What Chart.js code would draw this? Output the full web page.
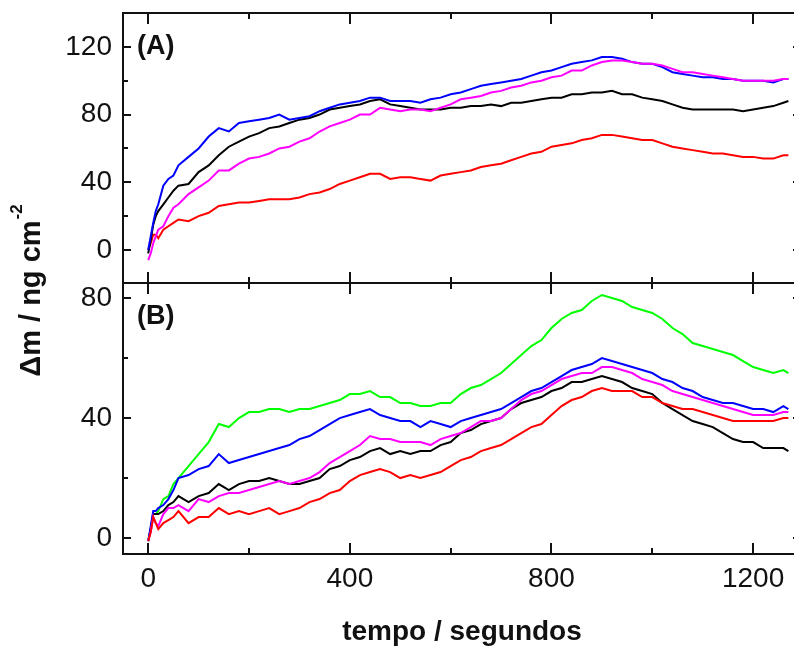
<!DOCTYPE html>
<html>
<head>
<meta charset="utf-8">
<script src="https://cdn.jsdelivr.net/npm/chart.js@4.4.1/dist/chart.umd.min.js"></script>
<style>
  html, body { margin: 0; padding: 0; background: #fff; overflow: hidden; }
  #quadro { position: relative; width: 794px; height: 651px; overflow: hidden; }
  #quadro canvas { position: absolute; left: 0; top: 0; }
</style>
</head>
<body>
<div id="quadro">
  <canvas id="painelA" width="805" height="290"></canvas>
  <canvas id="painelB" width="805" height="651"></canvas>
</div>
<script>
// Tempo (s)
const tempo = [0, 5, 10, 15, 20, 30, 40, 50, 60, 80, 100, 120, 140, 160, 180, 200, 220, 240, 260, 280,
  300, 320, 340, 360, 380, 400, 420, 440, 460, 480, 500, 520, 540, 560, 580, 600, 620, 640, 660, 680,
  700, 720, 740, 760, 780, 800, 820, 840, 860, 880, 900, 920, 940, 960, 980, 1000, 1020, 1040, 1060, 1080,
  1100, 1120, 1140, 1160, 1180, 1200, 1220, 1240, 1260, 1270];

// Painel (A) - Δm em ng cm-2
const azulA = [0, 8, 16, 23, 27, 38, 42, 44, 50, 55, 60, 67, 72, 70, 75, 76, 77, 78, 80, 77,
  78, 79, 82, 84, 86, 87, 88, 90, 90, 88, 88, 88, 87, 89, 90, 92, 93, 95, 97, 98,
  99, 100, 101, 103, 105, 106, 108, 110, 111, 112, 114, 114, 113, 111, 110, 110, 108, 105, 104, 103,
  102, 102, 101, 101, 100, 100, 100, 99, 101, 101];
const magentaA = [-6, -2, 4, 8, 12, 14, 20, 25, 27, 33, 37, 41, 47, 47, 51, 54, 55, 57, 60, 61,
  64, 66, 70, 73, 75, 77, 80, 80, 84, 83, 82, 83, 83, 82, 84, 86, 89, 90, 91, 93,
  94, 96, 97, 99, 100, 102, 103, 106, 106, 109, 111, 112, 112, 111, 110, 110, 109, 107, 105, 105,
  104, 103, 102, 101, 100, 100, 100, 100, 101, 101];
const pretoA = [-2, 6, 15, 20, 23, 27, 31, 35, 38, 39, 46, 50, 56, 61, 64, 67, 69, 72, 73, 75,
  77, 78, 80, 83, 84, 85, 86, 88, 89, 86, 85, 84, 83, 83, 83, 84, 84, 85, 85, 86,
  85, 87, 87, 88, 89, 90, 90, 92, 92, 93, 93, 94, 92, 92, 90, 89, 88, 86, 84, 83,
  83, 83, 83, 83, 82, 83, 84, 85, 87, 88];
const vermelhoA = [0, 4, 9, 9, 7, 12, 14, 16, 18, 17, 20, 22, 26, 27, 28, 28, 29, 30, 30, 30,
  31, 33, 34, 36, 39, 41, 43, 45, 45, 42, 43, 43, 42, 41, 44, 45, 46, 47, 49, 50,
  51, 53, 55, 57, 58, 61, 62, 63, 65, 66, 68, 68, 67, 66, 65, 65, 63, 61, 60, 59,
  58, 57, 57, 56, 55, 55, 54, 54, 56, 56];

// Painel (B)
const verdeB = [-1, 3, 8, 8, 9, 13, 14, 18, 20, 24, 28, 32, 38, 37, 40, 42, 42, 43, 43, 42,
  43, 43, 44, 45, 46, 48, 48, 49, 47, 47, 45, 45, 44, 44, 45, 45, 48, 50, 51, 53,
  55, 58, 61, 64, 66, 70, 73, 75, 76, 79, 81, 80, 79, 77, 76, 75, 73, 70, 68, 65,
  64, 63, 62, 61, 59, 57, 56, 55, 56, 55];
const azulB = [-1, 4, 9, 9, 10, 11, 13, 16, 20, 21, 23, 24, 28, 25, 26, 27, 28, 29, 30, 31,
  33, 34, 36, 38, 40, 41, 42, 43, 41, 40, 39, 39, 37, 39, 38, 37, 39, 40, 41, 42,
  43, 45, 47, 49, 50, 52, 54, 56, 57, 58, 60, 59, 58, 57, 56, 55, 53, 52, 50, 49,
  47, 46, 45, 45, 44, 43, 43, 42, 44, 43];
const magentaB = [-1, 2, 7, 5, 4, 8, 10, 10, 11, 9, 13, 12, 14, 15, 15, 16, 17, 18, 19, 18,
  19, 20, 22, 25, 27, 29, 31, 34, 33, 33, 32, 32, 32, 31, 33, 34, 35, 37, 39, 39,
  40, 43, 46, 48, 49, 51, 53, 54, 55, 55, 57, 57, 56, 55, 53, 52, 51, 49, 48, 47,
  46, 45, 44, 43, 42, 41, 41, 41, 42, 42];
const pretoB = [-1, 3, 8, 8, 8, 9, 11, 12, 14, 12, 14, 15, 18, 16, 18, 19, 19, 20, 19, 18,
  18, 19, 20, 23, 24, 26, 27, 29, 30, 28, 29, 28, 29, 29, 31, 32, 35, 36, 38, 39,
  40, 43, 45, 46, 47, 49, 50, 52, 52, 53, 54, 53, 52, 50, 49, 48, 45, 43, 41, 39,
  38, 37, 35, 33, 32, 32, 30, 30, 30, 29];
const vermelhoB = [-1, 2, 7, 5, 3, 5, 6, 7, 9, 5, 7, 7, 10, 8, 9, 8, 9, 10, 8, 9,
  10, 12, 13, 15, 16, 19, 21, 22, 23, 22, 20, 21, 20, 21, 22, 24, 26, 27, 29, 30,
  31, 33, 35, 37, 38, 41, 44, 46, 47, 49, 50, 49, 49, 49, 47, 47, 45, 44, 43, 43,
  42, 41, 40, 39, 39, 39, 39, 39, 40, 40];

// Marcas dos eixos
const marcasX = [0, 400, 800, 1200];
const marcasXMenores = [200, 600, 1000];
const marcasYA = [0, 40, 80, 120];
const marcasYAMenores = [20, 60, 100];
const marcasYB = [0, 40, 80];
const marcasYBMenores = [20, 60];

const fonte = "'Liberation Sans', Arial, sans-serif";
Chart.defaults.font.family = fonte;
Chart.defaults.color = '#111';

// Transforma uma série em pontos {x, y}
function pontos(serie) {
  return tempo.map((t, i) => ({ x: t, y: serie[i] }));
}

function linha(serie, cor) {
  return { data: pontos(serie), borderColor: cor, borderWidth: 2, pointRadius: 0, fill: false, tension: 0 };
}

// Zera o espaço extra que o Chart.js reserva para os rótulos das pontas
function semFolga(s) {
  s.paddingTop = 0;
  s.paddingBottom = 0;
  s.paddingLeft = 0;
  s.paddingRight = 0;
}

// Rótulos sem separador de milhar
const semit = (v) => String(v);

function eixoY(min, max, marcas) {
  return {
    min: min,
    max: max,
    grid: { display: false, drawTicks: false },
    border: { display: false },
    afterBuildTicks: (s) => { s.ticks = marcas.map((v) => ({ value: v })); },
    ticks: { font: { size: 28 }, padding: 11, callback: semit },
    afterFit: (s) => { s.width = 123; semFolga(s); },
  };
}

// Moldura, marcas para dentro e rótulo do painel
const moldura = {
  id: 'moldura',
  afterDraw(chart, args, opts) {
    const { ctx, chartArea: a } = chart;
    const x = chart.scales.x;
    const y = chart.scales.y;
    ctx.save();
    ctx.strokeStyle = '#111';
    ctx.lineWidth = 2;
    ctx.strokeRect(a.left, a.top, a.right - a.left, a.bottom - a.top);
    ctx.beginPath();
    const marcaX = (v, len) => {
      const p = Math.round(x.getPixelForValue(v));
      ctx.moveTo(p, a.top); ctx.lineTo(p, a.top + len);
      ctx.moveTo(p, a.bottom); ctx.lineTo(p, a.bottom - len);
    };
    const marcaY = (v, len) => {
      const p = Math.round(y.getPixelForValue(v));
      ctx.moveTo(a.left, p); ctx.lineTo(a.left + len, p);
      ctx.moveTo(a.right, p); ctx.lineTo(a.right - len, p);
    };
    marcasX.forEach((v) => marcaX(v, 11));
    marcasXMenores.forEach((v) => marcaX(v, 6));
    opts.maiores.forEach((v) => marcaY(v, 8));
    opts.menores.forEach((v) => marcaY(v, 5));
    ctx.stroke();

    ctx.fillStyle = '#111';
    ctx.font = 'bold 27px ' + fonte;
    ctx.textAlign = 'left';
    ctx.textBaseline = 'middle';
    ctx.fillText(opts.rotulo, a.left + 14, a.top + 34);
    ctx.restore();
  },
};

// Título do eixo Y, comum aos dois painéis
const tituloY = {
  id: 'tituloY',
  afterDraw(chart) {
    const ctx = chart.ctx;
    const texto = 'Δm / ng cm';
    const expoente = '-2';
    ctx.save();
    ctx.font = 'bold 29px ' + fonte;
    const w1 = ctx.measureText(texto).width;
    ctx.font = 'bold 17px ' + fonte;
    const w2 = ctx.measureText(expoente).width;
    ctx.translate(40, 291 + (w1 + w2) / 2);
    ctx.rotate(-Math.PI / 2);
    ctx.fillStyle = '#111';
    ctx.textBaseline = 'alphabetic';
    ctx.textAlign = 'left';
    ctx.font = 'bold 29px ' + fonte;
    ctx.fillText(texto, 0, 0);
    ctx.font = 'bold 17px ' + fonte;
    ctx.fillText(expoente, w1 + 1, -18);
    ctx.restore();
  },
};

// Painel (A)
new Chart(document.getElementById('painelA'), {
  type: 'line',
  data: {
    datasets: [
      linha(magentaA, '#ff00ff'),
      linha(azulA, '#0000ff'),
      linha(pretoA, '#000000'),
      linha(vermelhoA, '#ff0000'),
    ],
  },
  options: {
    responsive: false,
    animation: false,
    layout: { padding: { top: 13, bottom: 7, left: 0, right: 4 } },
    plugins: {
      legend: { display: false },
      tooltip: { enabled: false },
      moldura: { maiores: marcasYA, menores: marcasYAMenores, rotulo: '(A)' },
    },
    scales: {
      x: { type: 'linear', min: -50, max: 1295, display: false },
      y: eixoY(-19.5, 140, marcasYA),
    },
  },
  plugins: [moldura],
});

// Painel (B)
new Chart(document.getElementById('painelB'), {
  type: 'line',
  data: {
    datasets: [
      linha(vermelhoB, '#ff0000'),
      linha(magentaB, '#ff00ff'),
      linha(azulB, '#0000ff'),
      linha(pretoB, '#000000'),
      linha(verdeB, '#00ff00'),
    ],
  },
  options: {
    responsive: false,
    animation: false,
    layout: { padding: { top: 283, bottom: 0, left: 0, right: 4 } },
    plugins: {
      legend: { display: false },
      tooltip: { enabled: false },
      moldura: { maiores: marcasYB, menores: marcasYBMenores, rotulo: '(B)' },
    },
    scales: {
      x: {
        type: 'linear',
        min: -50,
        max: 1295,
        grid: { display: false, drawTicks: false },
        border: { display: false },
        afterBuildTicks: (s) => { s.ticks = marcasX.map((v) => ({ value: v })); },
        ticks: { font: { size: 28 }, padding: 8, maxRotation: 0, callback: semit },
        title: {
          display: true,
          text: 'tempo / segundos',
          font: { size: 28, weight: 'bold' },
          padding: { top: 0, bottom: 2 },
        },
        afterFit: (s) => { s.height = 97; semFolga(s); },
      },
      y: eixoY(-5.3, 85, marcasYB),
    },
  },
  plugins: [moldura, tituloY],
});
</script>
</body>
</html>
